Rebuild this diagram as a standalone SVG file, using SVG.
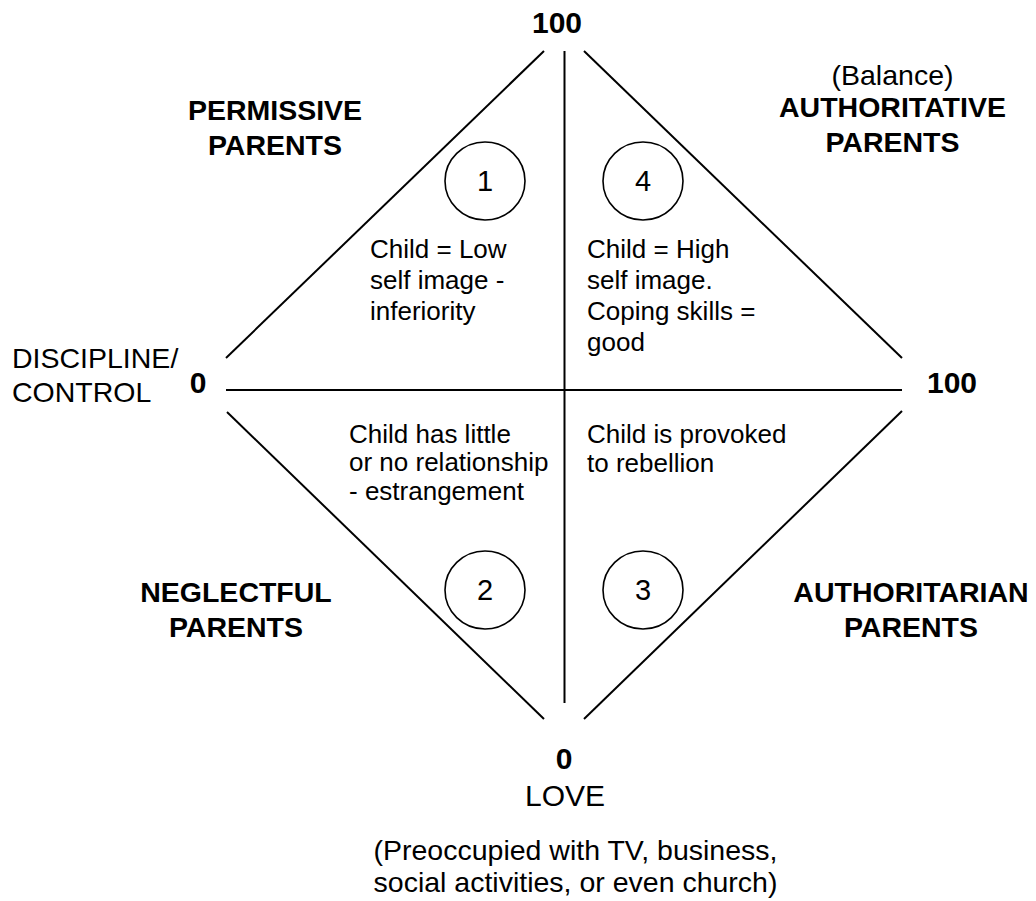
<svg xmlns="http://www.w3.org/2000/svg" width="1036" height="901" viewBox="0 0 1036 901">
<style>
.t{font-family:"Liberation Sans",Arial,sans-serif;fill:#000}
.b{font-weight:bold;font-size:28.5px;text-anchor:middle}
.n{font-weight:bold;font-size:30px;text-anchor:middle}
.r{font-size:28.5px}
.q{font-size:26px}
.c{font-size:29px;text-anchor:middle}
.ln{stroke:#000;stroke-width:2;fill:none}
.ci{stroke:#000;stroke-width:1.6;fill:#fff}
</style>
<rect width="1036" height="901" fill="#fff"/>
<g id="connectors">
<line class="ln" x1="564.5" y1="51" x2="564.5" y2="703"/>
<line class="ln" x1="226" y1="390" x2="902" y2="390"/>
<line class="ln" x1="226" y1="358" x2="544" y2="51"/>
<line class="ln" x1="584" y1="51" x2="902" y2="358"/>
<line class="ln" x1="227" y1="412" x2="544" y2="719"/>
<line class="ln" x1="902" y1="411" x2="584" y2="719"/>
</g>
<g id="axis-labels">
<text class="t n" x="557" y="33">100</text>
<text class="t n" x="198" y="393">0</text>
<text class="t n" x="952" y="393">100</text>
<text class="t n" x="564" y="769">0</text>
<text class="t r" x="12" y="368">DISCIPLINE/</text>
<text class="t r" x="12" y="402">CONTROL</text>
<text class="t" x="565" y="806" style="font-size:30px;text-anchor:middle">LOVE</text>
<text class="t r" x="575.5" y="860" style="text-anchor:middle">(Preoccupied with TV, business,</text>
<text class="t r" x="575.5" y="892" style="text-anchor:middle">social activities, or even church)</text>
</g>
<g id="permissive">
<text class="t b" x="275" y="120">PERMISSIVE</text>
<text class="t b" x="275" y="155">PARENTS</text>
</g>
<g id="authoritative">
<text class="t r" x="892.5" y="85" style="text-anchor:middle">(Balance)</text>
<text class="t b" x="892.5" y="117">AUTHORITATIVE</text>
<text class="t b" x="892.5" y="152">PARENTS</text>
</g>
<g id="neglectful">
<text class="t b" x="236" y="602">NEGLECTFUL</text>
<text class="t b" x="236" y="637">PARENTS</text>
</g>
<g id="authoritarian">
<text class="t b" x="911" y="602">AUTHORITARIAN</text>
<text class="t b" x="911" y="637">PARENTS</text>
</g>
<g id="q1">
<ellipse class="ci" cx="485" cy="181" rx="40" ry="39"/>
<text class="t c" x="485" y="191">1</text>
<text class="t q" x="370" y="258">Child = Low</text>
<text class="t q" x="370" y="289">self image -</text>
<text class="t q" x="370" y="320">inferiority</text>
</g>
<g id="q4">
<ellipse class="ci" cx="643" cy="181" rx="40" ry="39"/>
<text class="t c" x="643" y="191">4</text>
<text class="t q" x="587" y="258">Child = High</text>
<text class="t q" x="587" y="289">self image.</text>
<text class="t q" x="587" y="320">Coping skills =</text>
<text class="t q" x="587" y="351">good</text>
</g>
<g id="q2">
<ellipse class="ci" cx="485" cy="590" rx="40" ry="39"/>
<text class="t c" x="485" y="600">2</text>
<text class="t q" x="349" y="443">Child has little</text>
<text class="t q" x="349" y="471">or no relationship</text>
<text class="t q" x="349" y="500">- estrangement</text>
</g>
<g id="q3">
<ellipse class="ci" cx="643" cy="590" rx="40" ry="39"/>
<text class="t c" x="643" y="600">3</text>
<text class="t q" x="587" y="443">Child is provoked</text>
<text class="t q" x="587" y="472">to rebellion</text>
</g>
</svg>
